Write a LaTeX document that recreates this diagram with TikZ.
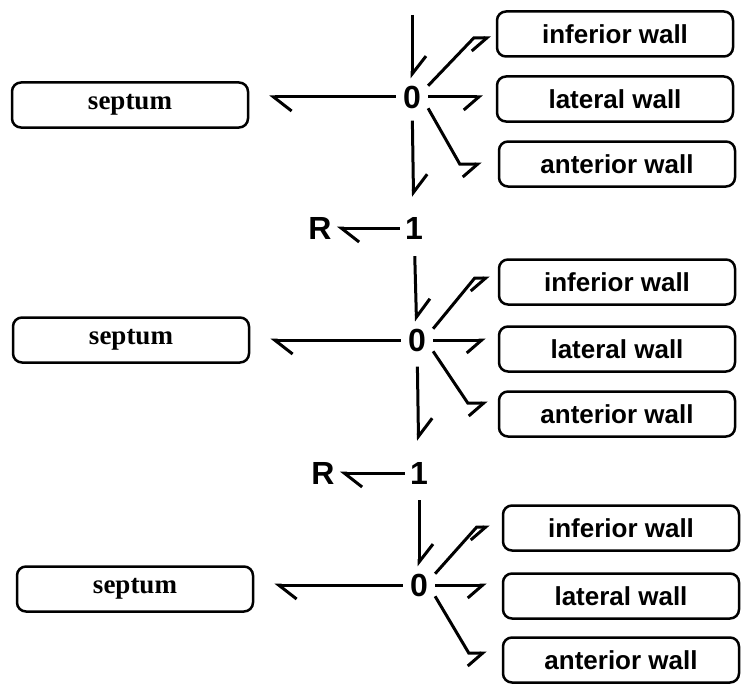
\documentclass[tikz,border=0pt]{standalone}
\usepackage{fontspec}
\setmainfont{Liberation Serif}
\newfontfamily\wallfont{Liberation Sans}
\usetikzlibrary{arrows.meta}

\begin{document}
\begin{tikzpicture}[
    x=1pt, y=-1pt,
    box/.style={draw, line width=2.5pt, rounded corners=9pt,
      minimum width=236pt, minimum height=45pt, inner sep=0pt},
    septbox/.style={box, font=\fontsize{27}{30}\selectfont\bfseries},
    wallbox/.style={box, font=\wallfont\fontsize{26}{30}\selectfont\bfseries},
    joint/.style={inner sep=7pt, font=\wallfont\fontsize{32}{34}\selectfont\bfseries},
    bond/.style={line width=3pt, -{Straight Barb[harpoon, length=18pt, width=28pt]}},
    bondsw/.style={line width=3pt, -{Straight Barb[harpoon, swap, length=15pt, width=26pt]}}
  ]
  \useasboundingbox (0,0) rectangle (754,698);

  \node[septbox] (sp1) at (130,105)   {septum};
  \node[septbox] (sp2) at (131,340)   {septum};
  \node[septbox] (sp3) at (135,589)   {septum};

  \node[wallbox] (iw1) at (615,34)    {inferior wall};
  \node[wallbox] (lw1) at (615,99)    {lateral wall};
  \node[wallbox] (aw1) at (617,164)   {anterior wall};
  \node[wallbox] (iw2) at (617,282)   {inferior wall};
  \node[wallbox] (lw2) at (617,349)   {lateral wall};
  \node[wallbox] (aw2) at (617,414)   {anterior wall};
  \node[wallbox] (iw3) at (621,528)   {inferior wall};
  \node[wallbox] (lw3) at (621,596)   {lateral wall};
  \node[wallbox] (aw3) at (621,660)   {anterior wall};

  \coordinate (top) at (412,15);
  \node[joint] (z1) at (412,97)       {0};
  \node[joint, inner sep=5pt] (o1) at (414,228) {1};
  \node[joint, inner sep=5pt] (r1) at (320,228) {R};
  \node[joint] (z2) at (417,340)      {0};
  \node[joint, inner sep=5pt] (o2) at (419,473) {1};
  \node[joint, inner sep=5pt] (r2) at (323,473) {R};
  \node[joint] (z3) at (419,585)      {0};

  \draw[bond] (top) -- (z1);
  \draw[bond, shorten >=20pt] (z1) -- (z1 -| sp1.east);
  \draw[bondsw] (z1.35) -- ([xshift=-22pt, yshift=-4pt]iw1.west) -- ([xshift=-5pt, yshift=-4pt]iw1.west);
  \draw[bondsw, shorten >=13pt] (z1) -- (z1 -| lw1.west);
  \draw[bondsw] (z1.-35) -- ([xshift=-38pt]aw1.west) -- ([xshift=-16pt]aw1.west);
  \draw[bond, shorten <=5pt, shorten >=15pt] (z1) -- (o1);
  \draw[bond] (o1) -- (r1);

  \draw[bond, shorten <=12pt] (o1) -- (z2);
  \draw[bond, shorten >=20pt] (z2) -- (z2 -| sp2.east);
  \draw[bondsw] (z2.35) -- ([xshift=-23pt, yshift=4pt]iw2.west) -- ([xshift=-8pt, yshift=4pt]iw2.west);
  \draw[bondsw, shorten >=12pt] (z2) -- (z2 -| lw2.west);
  \draw[bondsw] (z2.-35) -- ([xshift=-30pt, yshift=11pt]aw2.west) -- ([xshift=-10pt, yshift=11pt]aw2.west);
  \draw[bond, shorten <=8pt, shorten >=16pt] (z2) -- (o2);
  \draw[bond] (o2) -- (r2);

  \draw[bond, shorten <=11pt] (o2) -- (z3);
  \draw[bond, shorten >=20pt] (z3) -- (z3 -| sp3.east);
  \draw[bondsw] (z3.35) -- ([xshift=-25pt, yshift=1pt]iw3.west) -- ([xshift=-12pt, yshift=1pt]iw3.west);
  \draw[bondsw, shorten >=15pt] (z3) -- (z3 -| lw3.west);
  \draw[bondsw] (z3.-35) -- ([xshift=-33pt, yshift=7pt]aw3.west) -- ([xshift=-15pt, yshift=7pt]aw3.west);
\end{tikzpicture}
\end{document}
